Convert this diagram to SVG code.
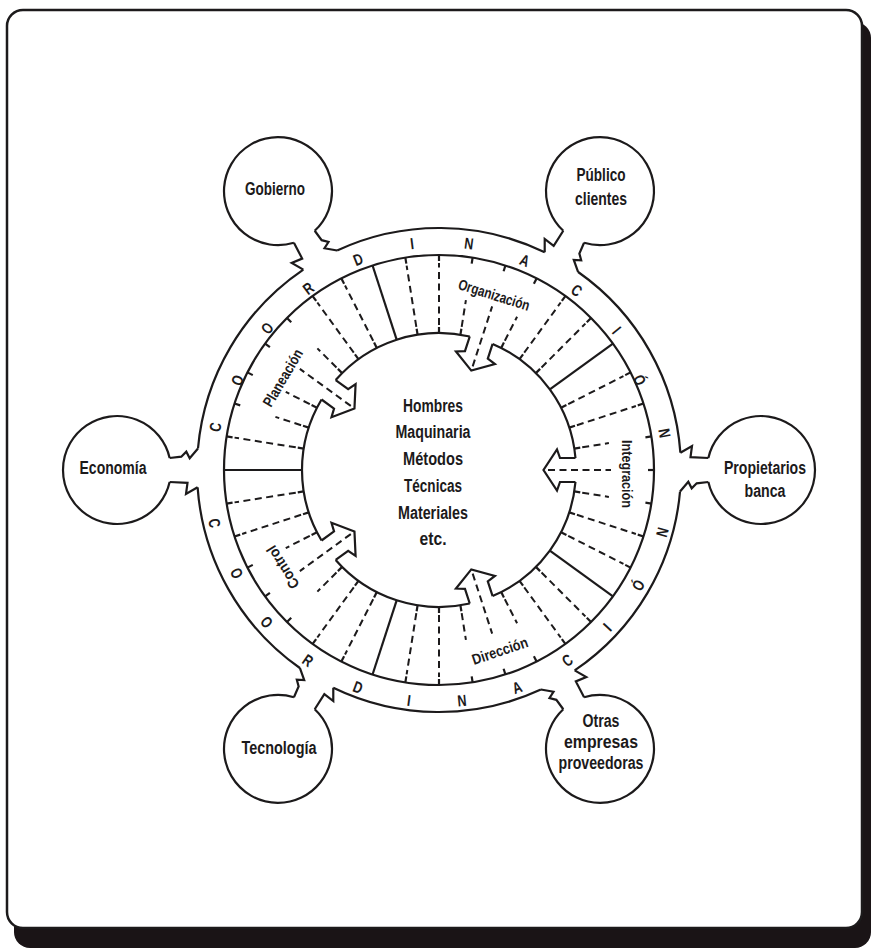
<svg xmlns="http://www.w3.org/2000/svg" xmlns:xlink="http://www.w3.org/1999/xlink" width="877" height="951" viewBox="0 0 877 951">
<style>
.s{stroke:#1c1a1b;stroke-width:2.2;fill:none;stroke-linecap:butt}
.dash{stroke:#1c1a1b;stroke-width:2;fill:none;stroke-dasharray:7 4.5}
.t{font-family:"Liberation Sans",Arial,"DejaVu Sans",sans-serif;fill:#1c1a1b}
.b{font-size:18px;font-weight:bold;text-anchor:middle}
.l{font-size:16px;font-weight:bold;text-anchor:middle}
.sec{font-size:15px;font-weight:bold;text-anchor:middle}
</style>
<defs>
<g id="full"><line class="s" x1="648" y1="470" x2="654" y2="470"/><line class="s" x1="576" y1="470" x2="582" y2="470"/><line class="dash" x1="584" y1="470" x2="646" y2="470"/></g>
<g id="part"><line class="s" x1="648" y1="470" x2="654" y2="470"/><line class="s" x1="576" y1="470" x2="582" y2="470"/><line class="dash" x1="584" y1="470" x2="611" y2="470"/></g>
<g id="arl"><line class="s" x1="648" y1="470" x2="654" y2="470"/><line class="dash" x1="548" y1="470" x2="611" y2="470"/></g>
<line id="solid" class="s" x1="576" y1="470" x2="654" y2="470"/>
<path id="inarc" class="s" d="M575.47,457.99 A137,137 0 0 0 492.6,343.92"/>
<path id="arrow" class="s" d="M575.47,457.99 L560,458 L557,449.5 L543.5,470 L557,490.5 L560,482 L575.47,482.01" stroke-linejoin="miter"/>
<path id="outarc" class="s" d="M680.38,452.70 A242,242 0 0 0 578.15,272.02"/>
<g id="nb">
<path class="s" d="M680.38,452.70 L692,446 L690.5,457.2 L708.35,458"/>
<path class="s" d="M680.04,491.51 L688.3,481.7 L691.7,488.3 L696.7,483.3 L708.35,482"/>
<path class="s" d="M708.35,458 A54,54 0 1 1 708.35,482"/>
</g>
</defs>

<rect x="14" y="22" width="857" height="926" rx="16" fill="#1a1416"/>
<rect x="7" y="10" width="855" height="918" rx="16" fill="#ffffff" stroke="#1c1a1b" stroke-width="2.5"/>

<g id="ring">
<circle class="s" cx="439" cy="470" r="215"/>
<use xlink:href="#outarc"/>
<use xlink:href="#outarc" transform="rotate(-60 439 470)"/>
<use xlink:href="#outarc" transform="rotate(-120 439 470)"/>
<use xlink:href="#outarc" transform="rotate(-180 439 470)"/>
<use xlink:href="#outarc" transform="rotate(-240 439 470)"/>
<use xlink:href="#outarc" transform="rotate(-300 439 470)"/>
<use xlink:href="#inarc"/>
<use xlink:href="#inarc" transform="rotate(-72 439 470)"/>
<use xlink:href="#inarc" transform="rotate(-144 439 470)"/>
<use xlink:href="#inarc" transform="rotate(-216 439 470)"/>
<use xlink:href="#inarc" transform="rotate(-288 439 470)"/>
</g>

<g id="connectors">
<use xlink:href="#arrow"/>
<use xlink:href="#arrow" transform="rotate(-72 439 470)"/>
<use xlink:href="#arrow" transform="rotate(-144 439 470)"/>
<use xlink:href="#arrow" transform="rotate(-216 439 470)"/>
<use xlink:href="#arrow" transform="rotate(-288 439 470)"/>
<use xlink:href="#solid" transform="rotate(-180 439 470)"/>
<use xlink:href="#solid" transform="rotate(-108 439 470)"/>
<use xlink:href="#solid" transform="rotate(-36 439 470)"/>
<use xlink:href="#solid" transform="rotate(36 439 470)"/>
<use xlink:href="#solid" transform="rotate(108 439 470)"/>
<use xlink:href="#full" transform="rotate(-117 439 470)"/>
<use xlink:href="#full" transform="rotate(-126 439 470)"/>
<use xlink:href="#part" transform="rotate(-135 439 470)"/>
<use xlink:href="#arl" transform="rotate(-144 439 470)"/>
<use xlink:href="#part" transform="rotate(-153 439 470)"/>
<use xlink:href="#part" transform="rotate(-162 439 470)"/>
<use xlink:href="#full" transform="rotate(-171 439 470)"/>
<use xlink:href="#full" transform="rotate(-45 439 470)"/>
<use xlink:href="#full" transform="rotate(-54 439 470)"/>
<use xlink:href="#part" transform="rotate(-63 439 470)"/>
<use xlink:href="#arl" transform="rotate(-72 439 470)"/>
<use xlink:href="#part" transform="rotate(-81 439 470)"/>
<use xlink:href="#full" transform="rotate(-90 439 470)"/>
<use xlink:href="#full" transform="rotate(-99 439 470)"/>
<use xlink:href="#full" transform="rotate(-27 439 470)"/>
<use xlink:href="#full" transform="rotate(-18 439 470)"/>
<use xlink:href="#part" transform="rotate(-9 439 470)"/>
<use xlink:href="#arl"/>
<use xlink:href="#part" transform="rotate(9 439 470)"/>
<use xlink:href="#full" transform="rotate(18 439 470)"/>
<use xlink:href="#full" transform="rotate(27 439 470)"/>
<use xlink:href="#full" transform="rotate(45 439 470)"/>
<use xlink:href="#full" transform="rotate(54 439 470)"/>
<use xlink:href="#part" transform="rotate(63 439 470)"/>
<use xlink:href="#arl" transform="rotate(72 439 470)"/>
<use xlink:href="#part" transform="rotate(81 439 470)"/>
<use xlink:href="#full" transform="rotate(90 439 470)"/>
<use xlink:href="#full" transform="rotate(99 439 470)"/>
<use xlink:href="#full" transform="rotate(117 439 470)"/>
<use xlink:href="#full" transform="rotate(126 439 470)"/>
<use xlink:href="#part" transform="rotate(135 439 470)"/>
<use xlink:href="#arl" transform="rotate(144 439 470)"/>
<use xlink:href="#part" transform="rotate(153 439 470)"/>
<use xlink:href="#full" transform="rotate(162 439 470)"/>
<use xlink:href="#full" transform="rotate(171 439 470)"/>
</g>

<g id="coordinacion" class="t l">
<text transform="translate(215 427) rotate(-79.75) scale(0.78 1)" y="6">C</text>
<text transform="translate(237 380) rotate(-65.25) scale(0.78 1)" y="6">O</text>
<text transform="translate(267 328) rotate(-50.75) scale(0.78 1)" y="6">O</text>
<text transform="translate(308 288) rotate(-36.25) scale(0.78 1)" y="6">R</text>
<text transform="translate(358 259) rotate(-21.75) scale(0.78 1)" y="6">D</text>
<text transform="translate(412 243) rotate(-7.25) scale(0.78 1)" y="6">I</text>
<text transform="translate(469 243) rotate(7.25) scale(0.78 1)" y="6">N</text>
<text transform="translate(525 260) rotate(21.75) scale(0.78 1)" y="6">A</text>
<text transform="translate(577 290) rotate(36.25) scale(0.78 1)" y="6">C</text>
<text transform="translate(617 330) rotate(50.75) scale(0.78 1)" y="6">I</text>
<text transform="translate(640 380) rotate(65.25) scale(0.78 1)" y="6">Ó</text>
<text transform="translate(665 433) rotate(79.75) scale(0.78 1)" y="6">N</text>
<text transform="translate(215 523) rotate(76.7) scale(0.78 1)" y="6">C</text>
<text transform="translate(237 573) rotate(63) scale(0.78 1)" y="6">O</text>
<text transform="translate(267 622) rotate(48.5) scale(0.78 1)" y="6">O</text>
<text transform="translate(308 660) rotate(34.6) scale(0.78 1)" y="6">R</text>
<text transform="translate(358 687) rotate(20.5) scale(0.78 1)" y="6">D</text>
<text transform="translate(409 700) rotate(7.4) scale(0.78 1)" y="6">I</text>
<text transform="translate(462 700) rotate(-5.7) scale(0.78 1)" y="6">N</text>
<text transform="translate(517 687) rotate(-19.8) scale(0.78 1)" y="6">A</text>
<text transform="translate(567 660) rotate(-34) scale(0.78 1)" y="6">C</text>
<text transform="translate(607 627) rotate(-47) scale(0.78 1)" y="6">I</text>
<text transform="translate(638 585) rotate(-60) scale(0.78 1)" y="6">Ó</text>
<text transform="translate(662 532) rotate(-74.5) scale(0.78 1)" y="6">N</text>
</g>

<g id="sections" class="t sec">
<text transform="translate(283 378) rotate(-59.5)" y="5" textLength="64" lengthAdjust="spacingAndGlyphs">Planeación</text>
<text transform="translate(494 295) rotate(17.5)" y="5" textLength="74" lengthAdjust="spacingAndGlyphs">Organización</text>
<text transform="translate(627 474) rotate(90)" y="5" textLength="68" lengthAdjust="spacingAndGlyphs">Integración</text>
<text transform="translate(500 651) rotate(-18.6)" y="5" textLength="58" lengthAdjust="spacingAndGlyphs">Dirección</text>
<text transform="translate(283 567) rotate(-122)" y="5" textLength="48" lengthAdjust="spacingAndGlyphs">Control</text>
</g>

<g id="centro" class="t b">
<text x="433" y="412" textLength="60" lengthAdjust="spacingAndGlyphs">Hombres</text>
<text x="433" y="438" textLength="75" lengthAdjust="spacingAndGlyphs">Maquinaria</text>
<text x="433" y="465" textLength="60" lengthAdjust="spacingAndGlyphs">Métodos</text>
<text x="433" y="492" textLength="58" lengthAdjust="spacingAndGlyphs">Técnicas</text>
<text x="433" y="519" textLength="70" lengthAdjust="spacingAndGlyphs">Materiales</text>
<text x="433" y="545" textLength="27" lengthAdjust="spacingAndGlyphs">etc.</text>
</g>

<g id="propietarios">
<use xlink:href="#nb"/>
<text class="t b" x="765" y="474" textLength="82" lengthAdjust="spacingAndGlyphs">Propietarios</text>
<text class="t b" x="765" y="497" textLength="41" lengthAdjust="spacingAndGlyphs">banca</text>
</g>
<g id="publico">
<use xlink:href="#nb" transform="rotate(-60 439 470)"/>
<text class="t b" x="601" y="181" textLength="49" lengthAdjust="spacingAndGlyphs">Público</text>
<text class="t b" x="601" y="205" textLength="52" lengthAdjust="spacingAndGlyphs">clientes</text>
</g>
<g id="gobierno">
<use xlink:href="#nb" transform="rotate(-120 439 470)"/>
<text class="t b" x="275" y="195" textLength="60" lengthAdjust="spacingAndGlyphs">Gobierno</text>
</g>
<g id="economia">
<use xlink:href="#nb" transform="rotate(-180 439 470)"/>
<text class="t b" x="113" y="474" textLength="67" lengthAdjust="spacingAndGlyphs">Economía</text>
</g>
<g id="tecnologia">
<use xlink:href="#nb" transform="rotate(120 439 470)"/>
<text class="t b" x="279" y="754" textLength="75" lengthAdjust="spacingAndGlyphs">Tecnología</text>
</g>
<g id="otras">
<use xlink:href="#nb" transform="rotate(60 439 470)"/>
<text class="t b" x="601" y="727" textLength="37" lengthAdjust="spacingAndGlyphs">Otras</text>
<text class="t b" x="601" y="748" textLength="74" lengthAdjust="spacingAndGlyphs">empresas</text>
<text class="t b" x="601" y="769" textLength="85" lengthAdjust="spacingAndGlyphs">proveedoras</text>
</g>
</svg>
